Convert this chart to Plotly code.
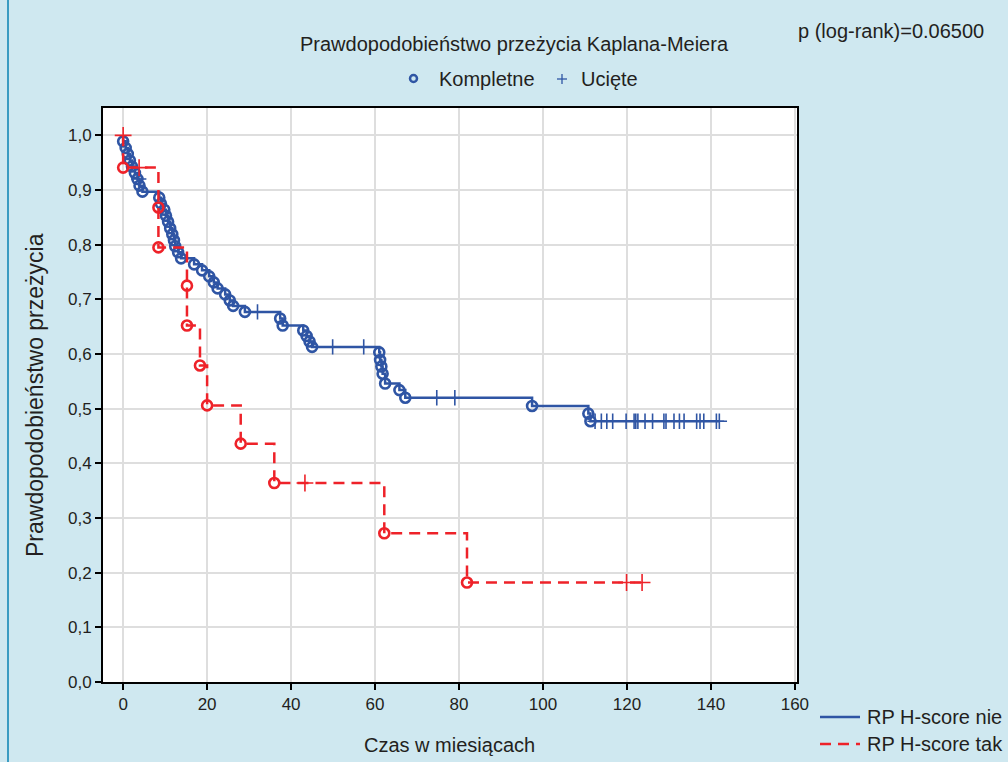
import plotly.graph_objects as go

# ---- Kaplan-Meier estimates ------------------------------------------------
# group "RP H-score nie": event times (months) and survival after each event
nie_event_t = [0.0, 0.6, 1.1, 1.6, 2.1, 2.8, 3.4, 3.9, 4.6,
               8.6, 9.0, 9.8, 10.2, 10.7, 11.2, 11.7, 12.1, 12.4, 13.1, 13.8,
               16.9, 18.8, 20.5, 21.6, 22.5, 24.3, 25.4, 26.2, 29.0,
               37.4, 38.0, 42.9, 43.7, 44.4, 45.0,
               61.0, 61.2, 61.5, 61.8, 62.4, 65.8, 67.2, 97.4, 110.8, 111.3]
nie_event_s = [0.989, 0.977, 0.966, 0.954, 0.943, 0.931, 0.920, 0.908, 0.897,
               0.886, 0.875, 0.864, 0.853, 0.842, 0.830, 0.819, 0.808, 0.797, 0.786, 0.775,
               0.764, 0.753, 0.742, 0.731, 0.720, 0.709, 0.698, 0.688, 0.677,
               0.665, 0.652, 0.643, 0.633, 0.623, 0.613,
               0.603, 0.589, 0.577, 0.564, 0.546, 0.534, 0.520, 0.505, 0.491, 0.477]
# censored observations
nie_cens_t = [3.7, 32.0, 49.9, 57.3, 74.7, 79.0,
              112.4, 113.9, 115.2, 116.6, 119.8, 121.7, 122.1, 122.6, 124.3, 126.1,
              128.8, 129.3, 131.2, 132.5, 133.6, 136.6, 137.4, 138.3, 141.3, 142.0]
nie_cens_s = [0.920, 0.677, 0.613, 0.613, 0.520, 0.520,
              0.477, 0.477, 0.477, 0.477, 0.477, 0.477, 0.477, 0.477, 0.477, 0.477,
              0.477, 0.477, 0.477, 0.477, 0.477, 0.477, 0.477, 0.477, 0.477, 0.477]

# group "RP H-score tak"
tak_event_t = [0.0, 8.4, 8.4, 15.2, 15.2, 18.3, 20.0, 28.0, 36.0, 62.2, 81.9]
tak_event_s = [0.941, 0.868, 0.795, 0.725, 0.652, 0.579, 0.506, 0.436, 0.364, 0.272, 0.182]
tak_cens_t = [0.0, 3.8, 43.3, 119.9, 123.6]
tak_cens_s = [1.0, 0.941, 0.364, 0.182, 0.182]

x_ticks = [0, 20, 40, 60, 80, 100, 120, 140, 160]
y_ticks = [0.0, 0.1, 0.2, 0.3, 0.4, 0.5, 0.6, 0.7, 0.8, 0.9, 1.0]
y_tick_text = ["0,0", "0,1", "0,2", "0,3", "0,4", "0,5", "0,6", "0,7", "0,8", "0,9", "1,0"]

BLUE = "#2f55a4"
RED = "#ee2229"
TXT = "#231f20"
FONT = "Liberation Sans, Arial, sans-serif"
RED_DASH = "11px,7px"

W, H = 1008, 762
L, R, T, B = 103, 211, 108, 80


def px(x):
    return (x - L) / (W - L - R)


def py(y):
    return (H - B - y) / (H - T - B)


def step_points(ev_t, ev_s, ce_t, ce_s, start=None):
    pts = list(zip(ev_t, ev_s)) + list(zip(ce_t, ce_s))
    pts.sort(key=lambda p: (p[0], -p[1]))
    if start is not None:
        pts = [start] + pts
    return [p[0] for p in pts], [p[1] for p in pts]


fig = go.Figure()

groups = [
    ("RP H-score nie", nie_event_t, nie_event_s, nie_cens_t, nie_cens_s, BLUE, "solid", (0.0, 1.0)),
    ("RP H-score tak", tak_event_t, tak_event_s, tak_cens_t, tak_cens_s, RED, RED_DASH, None),
]

for name, et, es, ct, cs, col, dash, start in groups:
    lx, ly = step_points(et, es, ct, cs, start)
    fig.add_trace(go.Scatter(
        x=lx, y=ly, mode="lines", name=name, line_shape="hv",
        line=dict(color=col, width=2.5, dash=dash), showlegend=False))
    fig.add_trace(go.Scatter(
        x=et, y=es, mode="markers", showlegend=False, hoverinfo="skip",
        marker=dict(symbol="circle-open", size=10, color=col, line=dict(width=2.6, color=col))))
    fig.add_trace(go.Scatter(
        x=ct, y=cs, mode="markers", showlegend=False, hoverinfo="skip",
        marker=dict(symbol="cross-thin-open", size=12 if col == RED else 11,
                    line=dict(width=1.6, color=col), color=col)))

annotations = [
    dict(text="Prawdopodobieństwo przeżycia Kaplana-Meiera", x=px(514), y=py(44),
         font=dict(size=20)),
    dict(text="p (log-rank)=0.06500", x=px(891), y=py(31), font=dict(size=20)),
    dict(text="Kompletne", x=px(437), y=py(79), xanchor="left", font=dict(size=20)),
    dict(text="Ucięte", x=px(579), y=py(79), xanchor="left", font=dict(size=20)),
    dict(text="Czas w miesiącach", x=px(449), y=py(745), font=dict(size=20)),
    dict(text="Prawdopodobieństwo przeżycia", x=px(35), y=py(395), textangle=-90,
         font=dict(size=23)),
    # series key, bottom right
    dict(text="RP H-score nie", x=px(865), y=py(717), xanchor="left", font=dict(size=20)),
    dict(text="RP H-score tak", x=px(865), y=py(744), xanchor="left", font=dict(size=20)),
]
for a in annotations:
    a.setdefault("xanchor", "center")
    a.update(xref="paper", yref="paper", yanchor="middle", showarrow=False)
    a["font"].update(family=FONT, color=TXT)

shapes = [
    # left edge rule of the panel
    dict(type="line", xref="paper", yref="paper", x0=px(8), x1=px(8), y0=py(0), y1=py(762),
         line=dict(color="#3b9cc2", width=2)),
    # key symbols next to "Kompletne" and "Ucięte"
    dict(type="circle", xref="paper", yref="paper", x0=px(410), x1=px(417), y0=py(75), y1=py(82),
         line=dict(color=BLUE, width=2.5)),
    dict(type="line", xref="paper", yref="paper", x0=px(557), x1=px(567), y0=py(79), y1=py(79),
         line=dict(color=BLUE, width=1.3)),
    dict(type="line", xref="paper", yref="paper", x0=px(562), x1=px(562), y0=py(74), y1=py(84),
         line=dict(color=BLUE, width=1.3)),
    # series key line samples
    dict(type="line", xref="paper", yref="paper", x0=px(820), x1=px(860), y0=py(717), y1=py(717),
         line=dict(color=BLUE, width=2.5)),
    dict(type="line", xref="paper", yref="paper", x0=px(820), x1=px(860), y0=py(744), y1=py(744),
         line=dict(color=RED, width=2.5, dash=RED_DASH)),
]

fig.update_layout(
    width=W, height=H,
    margin=dict(l=L, r=R, t=T, b=B, autoexpand=False),
    paper_bgcolor="#cfe8f0",
    plot_bgcolor="white",
    font=dict(family=FONT, color=TXT),
    annotations=annotations,
    shapes=shapes,
    showlegend=False,
    xaxis=dict(range=[-4.8, 160.5], tickvals=x_ticks, ticks="outside", ticklen=6,
               tickwidth=1.5, tickcolor="black", showline=True, linecolor="black",
               linewidth=2, mirror=True, showgrid=True, gridcolor="#dedede", gridwidth=1.5,
               zeroline=False, tickfont=dict(size=17, color=TXT)),
    yaxis=dict(range=[0, 1.05], tickvals=y_ticks, ticktext=y_tick_text, ticks="outside",
               ticklen=6, tickwidth=1.5, tickcolor="black", showline=True, linecolor="black",
               linewidth=2, mirror=True, showgrid=True, gridcolor="#dedede", gridwidth=1.5,
               zeroline=False, tickfont=dict(size=17, color=TXT)),
)

fig.write_html("out.html")
